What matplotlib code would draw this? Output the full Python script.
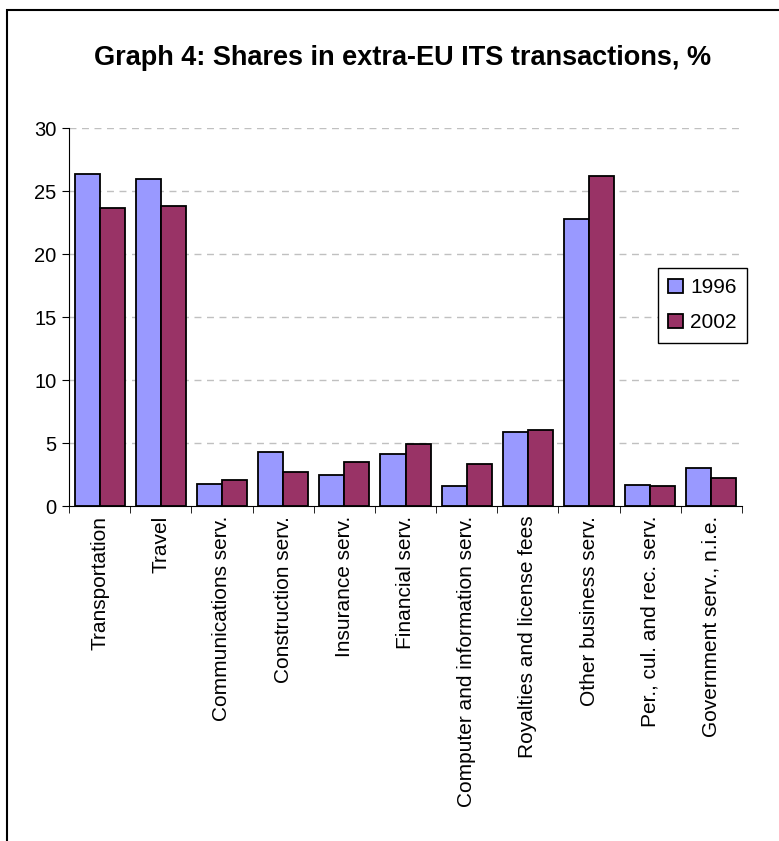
import numpy as np
import matplotlib.pyplot as plt
from matplotlib.patches import Rectangle

plt.rcParams['font.family'] = ['Liberation Sans', 'DejaVu Sans']

categories = ['Transportation', 'Travel', 'Communications serv.',
              'Construction serv.', 'Insurance serv.', 'Financial serv.',
              'Computer and information serv.', 'Royalties and license fees',
              'Other business serv.', 'Per., cul. and rec. serv.',
              'Government serv., n.i.e.']
share_1996 = [26.35, 26.0, 1.75, 4.3, 2.5, 4.1, 1.6, 5.9, 22.8, 1.7, 3.0]
share_2002 = [23.65, 23.8, 2.05, 2.7, 3.5, 4.95, 3.35, 6.05, 26.2, 1.6, 2.2]
years = ['1996', '2002']
yticks = [0, 5, 10, 15, 20, 25, 30]

fig = plt.figure(figsize=(7.79, 8.41), dpi=100)
ax = fig.add_axes([0.0886, 0.3983, 0.8639, 0.4491])

x = np.arange(len(categories))
w = 0.41
ax.bar(x - w / 2, share_1996, w, color='#9999FF', edgecolor='black',
       linewidth=1.3, label=years[0], zorder=3)
ax.bar(x + w / 2, share_2002, w, color='#993366', edgecolor='black',
       linewidth=1.3, label=years[1], zorder=3)

ax.set_xlim(-0.5, len(categories) - 0.5)
ax.set_ylim(0, 30)
ax.set_yticks(yticks)
ax.set_yticklabels([str(t) for t in yticks], fontsize=14.5)
ax.set_xticks(x)
ax.set_xticklabels(categories, rotation=90, fontsize=15)
ax.tick_params(axis='x', which='major', length=0, pad=7)
ax.set_xticks(np.arange(len(categories) + 1) - 0.5, minor=True)
ax.tick_params(axis='x', which='minor', length=5, direction='out')
ax.tick_params(axis='y', length=5, direction='out', pad=4)

for t in yticks[1:]:
    ax.axhline(t, color='#c0c0c0', linestyle=(0, (5, 4)), linewidth=1, zorder=1)

ax.spines['top'].set_visible(False)
ax.spines['right'].set_visible(False)

ax.legend(loc='upper left', bbox_to_anchor=(0.875, 0.63),
          fontsize=15, frameon=True, fancybox=False, edgecolor='black',
          framealpha=1, handlelength=0.7, handleheight=0.7,
          handletextpad=0.35, labelspacing=0.75, borderpad=0.5,
          borderaxespad=0)

fig.text(0.517, 0.931, 'Graph 4: Shares in extra-EU ITS transactions, %',
         ha='center', va='center', fontsize=19.5, fontweight='bold')

fig.patches.append(Rectangle((7 / 779, -0.1), 1.2, 1 - 10 / 841 + 0.1,
                             transform=fig.transFigure, fill=False,
                             edgecolor='black', linewidth=1.5))

fig.savefig('out.png', dpi=100)
